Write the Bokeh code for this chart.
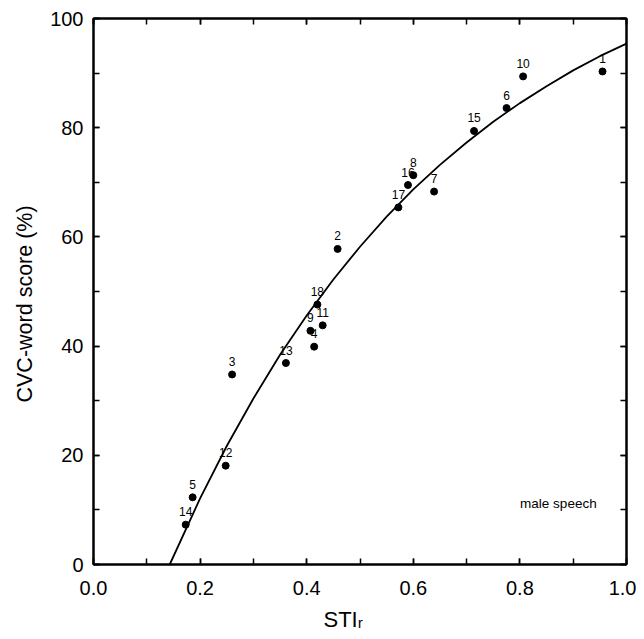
from bokeh.plotting import figure
from bokeh.models import (Range1d, LinearAxis, SingleIntervalTicker, Label,
                          ColumnDataSource, NumeralTickFormatter, Title)
from bokeh.core.properties import value
from bokeh.embed import file_html
from bokeh.resources import INLINE

# ---- data ----
point_ids = ["1", "2", "3", "4", "5", "6", "7", "8", "9",
             "10", "11", "12", "13", "14", "15", "16", "17", "18"]
sti = [0.955, 0.458, 0.260, 0.414, 0.186, 0.775, 0.639, 0.600, 0.407,
       0.806, 0.430, 0.248, 0.361, 0.173, 0.714, 0.590, 0.572, 0.420]
score = [90.3, 57.8, 34.8, 39.9, 12.3, 83.6, 68.3, 71.3, 42.8,
         89.4, 43.8, 18.1, 36.9, 7.3, 79.4, 69.5, 65.4, 47.6]

curve_sti = [0.143, 0.20, 0.25, 0.30, 0.35, 0.40, 0.45, 0.50, 0.55, 0.60,
             0.65, 0.70, 0.75, 0.80, 0.85, 0.90, 0.95, 1.00]
curve_score = [0.0, 12.1, 21.7, 30.4, 38.4, 45.6, 52.2, 58.2, 63.7, 68.7,
               73.2, 77.3, 81.1, 84.5, 87.6, 90.5, 93.1, 95.4]

x_title = "STI\u1d63"
y_title = "CVC-word score (%)"
note = "male speech"

FONT = "Liberation Sans"

p = figure(width=636, height=639,
           x_range=Range1d(0, 1), y_range=Range1d(0, 100),
           output_backend="svg", toolbar_location=None,
           min_border_left=93, min_border_right=10,
           min_border_top=18, min_border_bottom=75)
p.background_fill_color = "white"
p.border_fill_color = "white"
p.grid.visible = False
p.outline_line_color = "black"
p.outline_line_width = 2


def style_axis(ax, ticker, show_labels, standoff):
    ax.ticker = ticker
    ax.axis_line_color = "black"
    ax.axis_line_width = 2
    ax.major_tick_in = 6
    ax.major_tick_out = 0
    ax.minor_tick_in = 6
    ax.minor_tick_out = 0
    ax.major_tick_line_width = 1.5
    ax.minor_tick_line_width = 1.5
    ax.major_tick_line_color = "black"
    ax.minor_tick_line_color = "black"
    ax.major_label_standoff = standoff
    if show_labels:
        ax.major_label_text_font = FONT
        ax.major_label_text_font_size = "20px"
        ax.major_label_text_color = "black"
    else:
        ax.major_label_text_font_size = "0px"
        ax.major_label_text_color = None


style_axis(p.xaxis[0], SingleIntervalTicker(interval=0.2, num_minor_ticks=2), True, 16)
p.xaxis[0].formatter = NumeralTickFormatter(format="0.0")
style_axis(p.yaxis[0], SingleIntervalTicker(interval=20, num_minor_ticks=2), True, 10)

top = LinearAxis()
style_axis(top, SingleIntervalTicker(interval=0.2, num_minor_ticks=2), False, 0)
p.add_layout(top, "above")
right = LinearAxis()
style_axis(right, SingleIntervalTicker(interval=20, num_minor_ticks=2), False, 0)
p.add_layout(right, "right")

# axis titles (as side-panel titles so they are not clipped)
p.add_layout(Title(text=x_title, align="left", offset=230, vertical_align="bottom",
                   standoff=15, text_font=FONT, text_font_size="22px",
                   text_font_style="normal", text_color="black"), "below")
p.add_layout(Title(text=y_title, align="left", offset=162, vertical_align="middle",
                   standoff=20, text_font=FONT, text_font_size="21.5px",
                   text_font_style="normal", text_color="black"), "left")

# fitted curve
p.line(curve_sti, curve_score, line_color="black", line_width=1.8)

# data points with their numbers
src = ColumnDataSource(dict(x=sti, y=score, t=point_ids))
p.scatter("x", "y", source=src, size=7, color="black")
p.text("x", "y", text="t", source=src, text_align="center", text_baseline="middle",
       y_offset=-13, text_font=value(FONT), text_font_size="12px", text_color="black")

p.add_layout(Label(x=0.944, y=11.2, text=note,
                   text_align="right", text_baseline="middle",
                   text_font=FONT, text_font_size="13.5px", text_color="black"))

open("out.html", "w").write(file_html(p, INLINE))
